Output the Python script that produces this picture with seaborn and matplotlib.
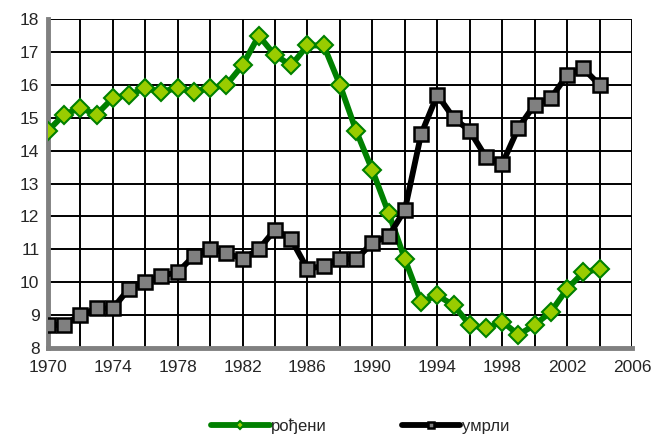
import pandas as pd
import matplotlib
matplotlib.use("Agg")
import matplotlib.pyplot as plt
import seaborn as sns

# values
years = list(range(1970, 2005))
rodjeni = [14.6, 15.1, 15.3, 15.1, 15.6, 15.7, 15.9, 15.8, 15.9, 15.8,
           15.9, 16.0, 16.6, 17.5, 16.9, 16.6, 17.2, 17.2, 16.0, 14.6,
           13.4, 12.1, 10.7, 9.4, 9.6, 9.3, 8.7, 8.6, 8.8, 8.4,
           8.7, 9.1, 9.8, 10.3, 10.4]
umrli = [8.7, 8.7, 9.0, 9.2, 9.2, 9.8, 10.0, 10.2, 10.3, 10.8,
         11.0, 10.9, 10.7, 11.0, 11.6, 11.3, 10.4, 10.5, 10.7, 10.7,
         11.2, 11.4, 12.2, 14.5, 15.7, 15.0, 14.6, 13.8, 13.6, 14.7,
         15.4, 15.6, 16.3, 16.5, 16.0]

df = pd.DataFrame({"year": years, "рођени": rodjeni, "умрли": umrli})

sns.set_style("white")
plt.rcParams['font.family'] = ['Liberation Sans', 'DejaVu Sans']

fig = plt.figure(figsize=(6.55, 4.36), dpi=100)
ax = fig.add_axes([0.073, 0.202, 0.892, 0.754])

sns.lineplot(data=df, x="year", y="рођени", ax=ax, color="#008000", lw=4.2,
             marker="D", markersize=9, markerfacecolor="#99CC00",
             markeredgecolor="#008000", markeredgewidth=1.5, label="рођени", zorder=3)
sns.lineplot(data=df, x="year", y="умрли", ax=ax, color="black", lw=4.2,
             marker="s", markersize=9.5, markerfacecolor="#808080",
             markeredgecolor="black", markeredgewidth=1.8, label="умрли", zorder=3)

ax.set_xlim(1970, 2006)
ax.set_ylim(8, 18)
ax.set_xticks(range(1970, 2007, 4))
ax.set_xticks(range(1970, 2007, 2), minor=True)
ax.set_yticks(range(8, 19))
ax.grid(True, which="both", color="black", lw=1.4)
ax.set_axisbelow(True)
ax.set_xlabel("")
ax.set_ylabel("")

for s in ["top", "right"]:
    ax.spines[s].set_visible(False)
for s in ["left", "bottom"]:
    ax.spines[s].set_color("#808080")
    ax.spines[s].set_linewidth(3.5)
ax.tick_params(axis="both", which="both", direction="out", length=4, width=3,
               color="#808080", labelsize=12.5, pad=2)
ax.tick_params(axis="x", which="major", pad=5)

ax.get_legend().remove()
handles, labels = ax.get_legend_handles_labels()
fig.legend(handles, labels, loc="lower center", bbox_to_anchor=(0.55, -0.03),
           ncol=2, frameon=False, fontsize=12, columnspacing=4.5,
           handlelength=3.5, handletextpad=0.1, markerscale=0.45)

fig.savefig("out.png", dpi=100)
